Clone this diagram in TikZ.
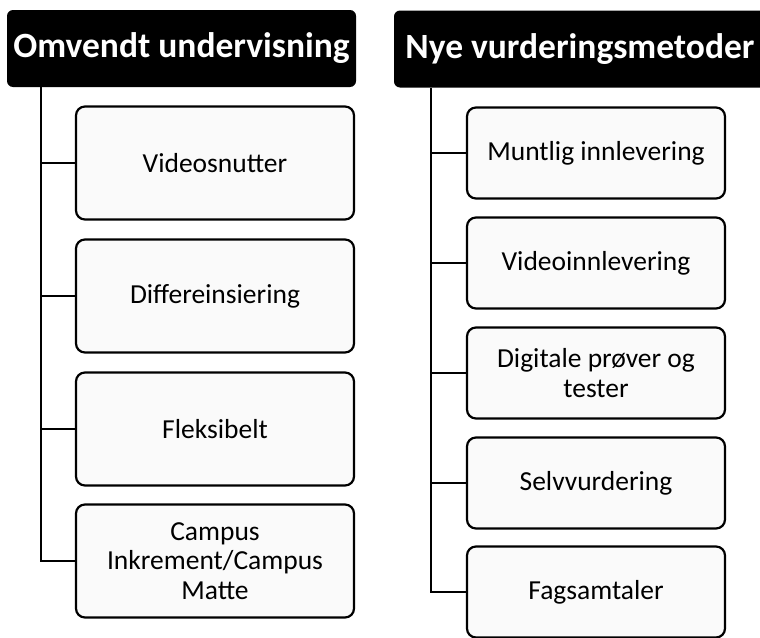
\documentclass[tikz,border=0pt]{standalone}
\usepackage{fontspec}
\setmainfont{Carlito}
\begin{document}
\begin{tikzpicture}[x=1pt,y=-1pt,
  header/.style={fill=black,text=white,rounded corners=6pt,inner sep=0pt,
    font=\fontsize{35.5}{40}\selectfont\bfseries,minimum height=77pt},
  lbox/.style={draw=black,line width=2.2pt,fill=black!2,rounded corners=9pt,
    minimum width=278pt,minimum height=113pt,inner sep=0pt,align=center,
    font=\fontsize{27.5}{29.5}\selectfont},
  rbox/.style={draw=black,line width=2.2pt,fill=black!2,rounded corners=9pt,
    minimum width=258pt,minimum height=91pt,inner sep=0pt,align=center,
    font=\fontsize{27.5}{30}\selectfont},
  link/.style={draw=black,line width=2.2pt}]
\useasboundingbox (0,0) rectangle (760,637);
\clip (0,0) rectangle (760,637);
% headers
\node[header,minimum width=349pt] (lh) at (181.5,48.5) {Omvendt undervisning};
\node[header,minimum width=372pt] (rh) at (580,49) {Nye vurderingsmetoder};
% left boxes
\node[lbox] (l1) at (215,163) {Videosnutter};
\node[lbox] (l2) at (215,296) {Differeinsiering};
\node[lbox] (l3) at (215,429) {Fleksibelt};
\node[lbox] (l4) at (215,561) {Campus\\Inkrement/Campus\\Matte};
% right boxes
\node[rbox] (r1) at (596,153) {Muntlig innlevering};
\node[rbox] (r2) at (596,263) {Videoinnlevering};
\node[rbox] (r3) at (596,373) {Digitale prøver og\\tester};
\node[rbox] (r4) at (596,483) {Selvvurdering};
\node[rbox] (r5) at (596,592) {Fagsamtaler};
% spines
\coordinate (ls) at (41,87);
\coordinate (rs) at (431,88);
\draw[link] (ls) |- (l4.west);
\foreach \n in {l1,l2,l3} \draw[link] (ls |- \n.west) -- (\n.west);
\draw[link] (rs) |- (r5.west);
\foreach \n in {r1,r2,r3,r4} \draw[link] (rs |- \n.west) -- (\n.west);
\end{tikzpicture}
\end{document}
